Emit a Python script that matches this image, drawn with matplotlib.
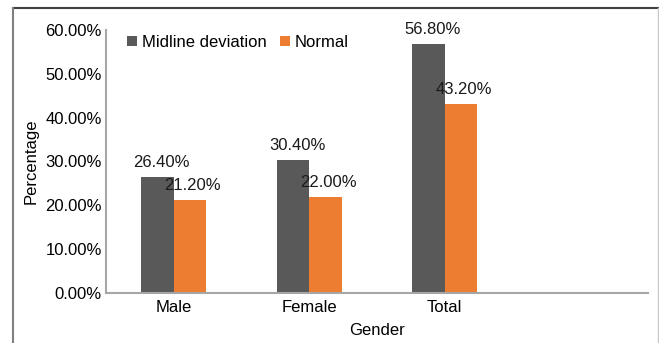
import matplotlib
matplotlib.use("Agg")
import matplotlib.pyplot as plt
from matplotlib.lines import Line2D
import numpy as np

plt.rcParams['font.family'] = ['Liberation Sans', 'DejaVu Sans']

# gender groups (last slot left empty on the axis)
groups = ['Male', 'Female', 'Total', '']
midline = [26.4, 30.4, 56.8]
normal = [21.2, 22.0, 43.2]
yticks = [0, 10, 20, 30, 40, 50, 60]

dark = '#595959'
orange = '#ED7D31'
fs = 12

fig = plt.figure(figsize=(6.59, 3.43), dpi=100)
ax = fig.add_axes([0.1609, 0.1458, 0.8225, 0.7668])

x = np.arange(len(midline))
w = 0.24
ax.bar(x - w / 2, midline, w, color=dark, label='Midline deviation')
ax.bar(x + w / 2, normal, w, color=orange, label='Normal')

# value labels above each bar
for xi, v in zip(x, midline):
    ax.annotate(f'{v:.2f}%', (xi - w / 2, v), xytext=(3, 5), textcoords='offset points',
                ha='center', va='bottom', fontsize=fs, color='#1a1a1a')
for xi, v in zip(x, normal):
    ax.annotate(f'{v:.2f}%', (xi + w / 2, v), xytext=(2, 5), textcoords='offset points',
                ha='center', va='bottom', fontsize=fs, color='#1a1a1a')

ax.set_xlim(-0.5, 3.5)
ax.set_ylim(0, 60)
ax.set_xticks(np.arange(len(groups)))
ax.set_xticklabels(groups, fontsize=fs)
ax.set_yticks(yticks)
ax.set_yticklabels([f'{t:.2f}%' for t in yticks], fontsize=fs)
ax.tick_params(length=0, pad=3)
ax.tick_params(axis='x', pad=5)

for s in ['top', 'right']:
    ax.spines[s].set_visible(False)
for s in ['left', 'bottom']:
    ax.spines[s].set_color('#A6A6A6')
    ax.spines[s].set_linewidth(1.5)

ax.set_ylabel('Percentage', fontsize=fs, labelpad=5)
ax.set_xlabel('Gender', fontsize=fs, labelpad=6)

ax.legend(loc='upper left', bbox_to_anchor=(0.02, 1.02), ncol=2, frameon=False,
          fontsize=fs, handlelength=0.6, handleheight=0.6, handletextpad=0.3,
          columnspacing=0.8, borderaxespad=0.2)

# outer frame
fig.add_artist(Line2D([13 / 659, 1], [1 - 8 / 343] * 2, color='#404040', lw=1.5))
fig.add_artist(Line2D([13 / 659] * 2, [0, 1 - 8 / 343], color='#808080', lw=1.5))
fig.add_artist(Line2D([658 / 659] * 2, [0, 1 - 8 / 343], color='#C8C8C8', lw=1.0))

fig.savefig('out.png', dpi=100)
